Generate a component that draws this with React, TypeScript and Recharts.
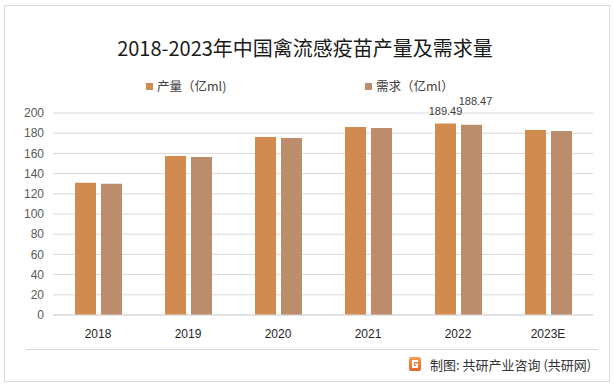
import { BarChart, Bar, XAxis, YAxis, CartesianGrid, LabelList } from 'recharts'

const years = ['2018', '2019', '2020', '2021', '2022', '2023E']
const output = [131.0, 157.4, 176.2, 186.1, 189.49, 183.2]
const demand = [129.9, 156.4, 175.2, 185.1, 188.47, 182.2]
// only 2022 carries a data label in the source
const outputLabels = ['', '', '', '', '189.49', '']
const demandLabels = ['', '', '', '', '188.47', '']
const yTicks = [0, 20, 40, 60, 80, 100, 120, 140, 160, 180, 200]

const ORANGE = '#D28B4F'
const TAN = '#BC8D6D'
const FONT = '"Liberation Sans", Arial, sans-serif'
const CJK = '"Noto Sans CJK SC", "Noto Sans", sans-serif'

const data = years.map((year, i) => ({
  year,
  output: output[i],
  demand: demand[i],
  outputLabel: outputLabels[i],
  demandLabel: demandLabels[i],
}))

function makeLabel(dx: number, dy: number) {
  return (props: any) => {
    const { x, y, width, value } = props
    if (!value) return null
    return (
      <text
        x={x + width / 2 + dx}
        y={y + dy}
        textAnchor="middle"
        dominantBaseline="central"
        fontSize={11}
        fontFamily={FONT}
        fill="#404040"
      >
        {value}
      </text>
    )
  }
}

function ChartLegend() {
  const items = [
    { name: '产量（亿ml)', color: ORANGE, left: 146 },
    { name: '需求（亿ml）', color: TAN, left: 365 },
  ]
  return (
    <>
      {items.map(it => (
        <div
          key={it.name}
          style={{
            position: 'absolute',
            left: it.left,
            top: 78,
            display: 'flex',
            alignItems: 'center',
            fontFamily: CJK,
            fontSize: 12.5,
            lineHeight: '16px',
            color: '#404040',
            whiteSpace: 'nowrap',
          }}
        >
          <span style={{ width: 7, height: 7, background: it.color, marginRight: 4 }} />
          {it.name}
        </div>
      ))}
    </>
  )
}

export default function App() {
  return (
    <div
      style={{
        position: 'absolute',
        left: 0,
        top: 0,
        width: 614,
        height: 387,
        background: '#fff',
        overflow: 'hidden',
      }}
    >
      <div
        style={{
          position: 'absolute',
          left: 4,
          top: 5,
          width: 606,
          height: 377,
          border: '1px solid #d9d9d9',
          boxSizing: 'border-box',
        }}
      />
      <div
        style={{
          position: 'absolute',
          left: 0,
          top: 36,
          width: 610,
          textAlign: 'center',
          fontFamily: CJK,
          fontSize: 20,
          color: '#1a1a1a',
          lineHeight: '24px',
        }}
      >
        2018-2023年中国禽流感疫苗产量及需求量
      </div>
      <ChartLegend />

      <div style={{ position: 'absolute', left: 0, top: 0 }}>
        <BarChart
          width={614}
          height={387}
          data={data}
          margin={{ top: 113, right: 21, bottom: 42, left: 0 }}
          barGap={5}
        >
          <CartesianGrid vertical={false} stroke="#d9d9d9" />
          <XAxis
            dataKey="year"
            height={30}
            axisLine={{ stroke: '#d9d9d9' }}
            tickLine={false}
            tickMargin={8}
            tick={{ fontSize: 12, fill: '#262626', fontFamily: FONT }}
          />
          <YAxis
            width={53}
            domain={[0, 200]}
            ticks={yTicks}
            interval={0}
            axisLine={false}
            tickLine={false}
            tickMargin={3}
            tick={{ fontSize: 12, fill: '#595959', fontFamily: FONT }}
          />
          <Bar dataKey="output" fill={ORANGE} barSize={21} isAnimationActive={false}>
            <LabelList dataKey="outputLabel" content={makeLabel(0, -13)} />
          </Bar>
          <Bar dataKey="demand" fill={TAN} barSize={21} isAnimationActive={false}>
            <LabelList dataKey="demandLabel" content={makeLabel(4, -24)} />
          </Bar>
        </BarChart>
      </div>

      <div
        style={{
          position: 'absolute',
          left: 26,
          top: 349,
          width: 572,
          height: 1,
          background: '#d9d9d9',
        }}
      />
      <svg
        style={{ position: 'absolute', left: 409, top: 357 }}
        width={12}
        height={14}
        viewBox="0 0 12 14"
      >
        <defs>
          <linearGradient id="lg" x1="0" y1="0" x2="0" y2="1">
            <stop offset="0" stopColor="#F6A04B" />
            <stop offset="1" stopColor="#E8622C" />
          </linearGradient>
        </defs>
        <rect x={0} y={0} width={12} height={14} rx={2} fill="url(#lg)" />
        <path d="M3 3h6v2H5v4h2V8H6V6.5h3V11H3z" fill="#fff" />
      </svg>
      <div
        style={{
          position: 'absolute',
          left: 430,
          top: 356,
          fontFamily: CJK,
          fontSize: 13,
          color: '#333',
          lineHeight: '18px',
          whiteSpace: 'nowrap',
        }}
      >
        制图: 共研产业咨询 (共研网)
      </div>
    </div>
  )
}
